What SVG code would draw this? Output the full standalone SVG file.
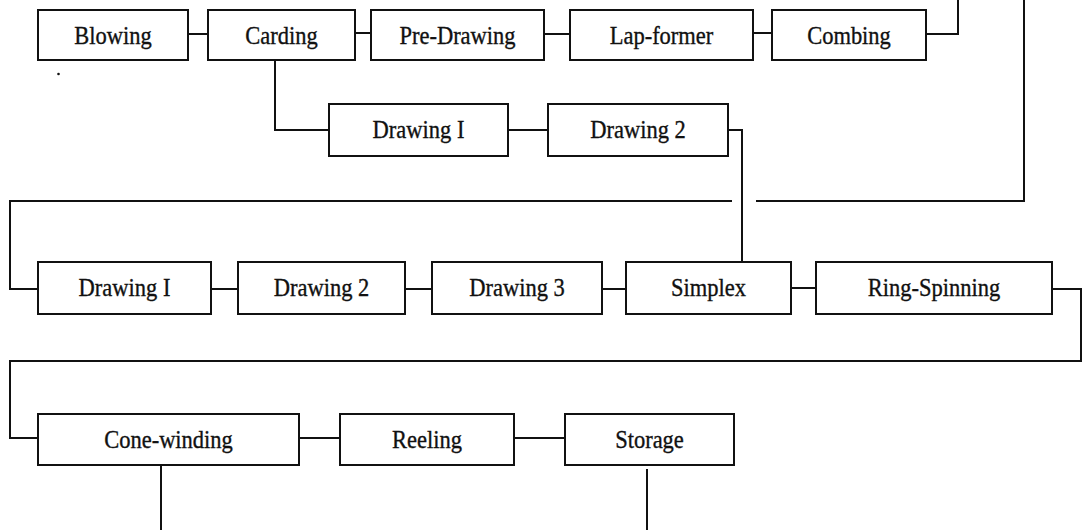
<svg xmlns="http://www.w3.org/2000/svg" width="1082" height="530" viewBox="0 0 1082 530">
  <style>
    .box rect { fill: #fff; stroke: #111; stroke-width: 2; }
    .box text { font-family: "Liberation Serif", "Times New Roman", serif; font-size: 25px; fill: #111; text-anchor: middle; stroke: #111; stroke-width: 0.35; }
    #connectors path { fill: none; stroke: #111; stroke-width: 2; }
  </style>
  <rect width="1082" height="530" fill="#fff"/>

  <g id="connectors">
    <!-- top row links -->
    <path d="M188 34 H208"/>
    <path d="M355 33 H371"/>
    <path d="M544 34 H570"/>
    <path d="M753 33 H772"/>
    <path d="M926 34 H958 V0"/>
    <!-- carding branch -->
    <path d="M275 60 V130 H329"/>
    <path d="M508 130 H548"/>
    <path d="M728 130 H742 V262"/>
    <!-- return from the top edge to the second row, with a hop over the branch -->
    <path d="M1024 0 V201 H756"/>
    <path d="M732 201 H10 V289 H38"/>
    <!-- second row links -->
    <path d="M211 289 H238"/>
    <path d="M405 289 H432"/>
    <path d="M602 289 H626"/>
    <path d="M791 288 H816"/>
    <path d="M1052 289 H1081 V361 H10 V438 H38"/>
    <!-- third row links -->
    <path d="M299 438 H340"/>
    <path d="M514 438 H565"/>
    <path d="M161 465 V530"/>
    <path d="M647 469 V530"/>
  </g>

  <circle cx="58.5" cy="74" r="1.3" fill="#111"/>

  <g id="blowing" class="box"><rect x="38" y="10" width="150" height="50"/><text transform="translate(113 43.5) scale(0.9 1)">Blowing</text></g>
  <g id="carding" class="box"><rect x="208" y="10" width="147" height="50"/><text transform="translate(281.5 43.5) scale(0.9 1)">Carding</text></g>
  <g id="pre-drawing" class="box"><rect x="371" y="10" width="173" height="50"/><text transform="translate(457.5 43.5) scale(0.9 1)">Pre-Drawing</text></g>
  <g id="lap-former" class="box"><rect x="570" y="10" width="183" height="50"/><text transform="translate(661.5 43.5) scale(0.9 1)">Lap-former</text></g>
  <g id="combing" class="box"><rect x="772" y="10" width="154" height="50"/><text transform="translate(849 43.5) scale(0.9 1)">Combing</text></g>

  <g id="drawing-1a" class="box"><rect x="329" y="104" width="179" height="52"/><text transform="translate(418.5 138) scale(0.9 1)">Drawing I</text></g>
  <g id="drawing-2a" class="box"><rect x="548" y="104" width="180" height="52"/><text transform="translate(638 138) scale(0.9 1)">Drawing 2</text></g>

  <g id="drawing-1b" class="box"><rect x="38" y="262" width="173" height="52"/><text transform="translate(124.5 296) scale(0.9 1)">Drawing I</text></g>
  <g id="drawing-2b" class="box"><rect x="238" y="262" width="167" height="52"/><text transform="translate(321.5 296) scale(0.9 1)">Drawing 2</text></g>
  <g id="drawing-3" class="box"><rect x="432" y="262" width="170" height="52"/><text transform="translate(517 296) scale(0.9 1)">Drawing 3</text></g>
  <g id="simplex" class="box"><rect x="626" y="262" width="165" height="52"/><text transform="translate(708.5 296) scale(0.9 1)">Simplex</text></g>
  <g id="ring-spinning" class="box"><rect x="816" y="262" width="236" height="52"/><text transform="translate(934 296) scale(0.9 1)">Ring-Spinning</text></g>

  <g id="cone-winding" class="box"><rect x="38" y="414" width="261" height="51"/><text transform="translate(168.5 448) scale(0.9 1)">Cone-winding</text></g>
  <g id="reeling" class="box"><rect x="340" y="414" width="174" height="51"/><text transform="translate(427 448) scale(0.9 1)">Reeling</text></g>
  <g id="storage" class="box"><rect x="565" y="414" width="169" height="51"/><text transform="translate(649.5 448) scale(0.9 1)">Storage</text></g>
</svg>
